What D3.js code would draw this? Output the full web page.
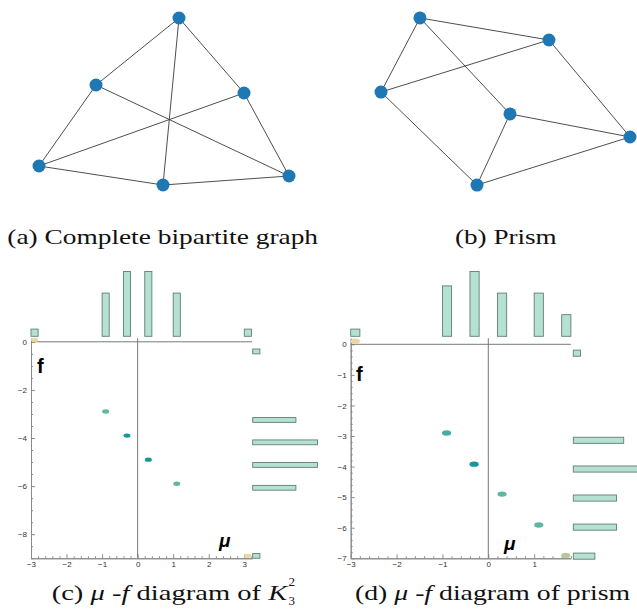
<!DOCTYPE html>
<html>
<head>
<meta charset="utf-8">
<script src="https://cdn.jsdelivr.net/npm/d3@7"></script>
<style>
  html, body { margin: 0; padding: 0; background: #fff; }
  svg { display: block; }
  .tick text { font-family: "Liberation Sans", Arial, sans-serif; font-size: 8px; fill: #333; }
</style>
</head>
<body>
<script>
// ---------- Graph layouts (unit coordinates, y up) ----------
const bipartiteNodes = [
  { x: 0.12,  y: 0.668 },
  { x: -0.544, y: 0.132 },
  { x: 0.64,  y: 0.068 },
  { x: -1.0,  y: -0.516 },
  { x: -0.008, y: -0.668 },
  { x: 1.0,   y: -0.596 }
];
const bipartiteEdges = [[0,1],[0,2],[0,4],[1,3],[1,5],[2,3],[2,5],[3,4],[4,5]];

const prismNodes = [
  { x: -0.687, y: 0.671 },
  { x: 0.349,  y: 0.494 },
  { x: -1.0,   y: 0.076 },
  { x: 0.036,  y: -0.1 },
  { x: 1.0,    y: -0.285 },
  { x: -0.229, y: -0.671 }
];
const prismEdges = [[0,1],[0,2],[0,3],[1,2],[1,4],[2,5],[3,4],[3,5],[4,5]];

// ---------- mu-f diagram of K3^2 ----------
const k3Points = [
  { mu: -0.9, f: -2.9, kind: "light" },
  { mu: -0.3, f: -3.9, kind: "dark" },
  { mu: 0.3,  f: -4.9, kind: "dark" },
  { mu: 1.1,  f: -5.9, kind: "light" },
  { mu: -2.9, f: 0.08, kind: "tan" },
  { mu: 3.1,  f: -8.9, kind: "tan" }
];
const k3MuBins = [-3, -1, -0.4, 0.2, 1.0, 3.0];
const k3MuCounts = [1, 6, 9, 9, 6, 1];
const k3FBins = [-0.3, -3.15, -4.08, -5.02, -5.97, -8.8];
const k3FCounts = [1, 6, 9, 9, 6, 1];
const k3MuTicks = [-3, -2, -1, 0, 1, 2, 3];
const k3FTicks = [0, -2, -4, -6, -8];

// ---------- mu-f diagram of prism ----------
const prismPoints = [
  { mu: -0.91, f: -2.9,  kind: "mid" },
  { mu: -0.31, f: -3.92, kind: "dark" },
  { mu: 0.3,   f: -4.9,  kind: "light" },
  { mu: 1.1,   f: -5.91, kind: "light" },
  { mu: 1.69,  f: -6.91, kind: "olive" },
  { mu: -2.9,  f: 0.1,   kind: "tan" }
];
const prismMuBins = [-3, -1, -0.4, 0.2, 1.0, 1.6];
const prismMuCounts = [1, 7, 9, 6, 6, 3];
const prismFBins = [-0.19, -3.04, -3.98, -4.93, -5.88, -6.83];
const prismFCounts = [1, 7, 9, 6, 6, 3];
const prismMuTicks = [-3, -2, -1, 0, 1];
const prismFTicks = [0, -1, -2, -3, -4, -5, -6, -7];

const pointColors = {
  light: "#5db8a3", dark: "#13999a", mid: "#4aab9f",
  olive: "#b9c89c", tan: "#ecd6a3"
};

const SERIF = "'Liberation Serif', 'Times New Roman', Times, 'Noto Serif', 'DejaVu Serif', serif";

const W = 637, H = 612;
const svg = d3.select("body").append("svg").attr("width", W).attr("height", H);
svg.append("rect").attr("width", W).attr("height", H).attr("fill", "#fff");

// ---------- network drawings ----------
function drawGraph(nodes, edges, xr, yr) {
  const x = d3.scaleLinear().domain([-1, 1]).range(xr);
  const y = d3.scaleLinear().domain([-1, 1]).range(yr);
  const g = svg.append("g");
  g.selectAll("line").data(edges).join("line")
    .attr("x1", d => x(nodes[d[0]].x)).attr("y1", d => y(nodes[d[0]].y))
    .attr("x2", d => x(nodes[d[1]].x)).attr("y2", d => y(nodes[d[1]].y))
    .attr("stroke", "#3a3a3a").attr("stroke-width", 0.9);
  g.selectAll("circle").data(nodes).join("circle")
    .attr("cx", d => x(d.x)).attr("cy", d => y(d.y))
    .attr("r", 6.5).attr("fill", "#1f77b4");
}
drawGraph(bipartiteNodes, bipartiteEdges, [39, 289], [226.5, -23.5]);
drawGraph(prismNodes, prismEdges, [381, 630], [226, -23]);

// ---------- mu-f diagrams ----------
function drawDiagram(cfg) {
  const x = d3.scaleLinear().domain([-3, cfg.muMax])
    .range([cfg.x0, cfg.x0 + (cfg.muMax + 3) * cfg.pxMu]);
  const y = d3.scaleLinear().domain([cfg.fTop, cfg.fMin])
    .range([cfg.y0 - cfg.fTop * cfg.pxF, cfg.y0 - cfg.fMin * cfg.pxF]);
  const g = svg.append("g");
  const barW = 0.2;
  const count = d3.scaleLinear().domain([0, 1]).range([0, 7.2]);

  // marginal histogram along mu (above the plot)
  g.selectAll("rect.mu").data(cfg.muBins).join("rect").attr("class", "mu")
    .attr("x", d => x(d)).attr("width", d => x(d + barW) - x(d))
    .attr("y", (d, i) => cfg.topBase - count(cfg.muCounts[i]))
    .attr("height", (d, i) => count(cfg.muCounts[i]))
    .attr("fill", "#b5e1d2").attr("stroke", "#5f7f74").attr("stroke-width", 0.9);

  // marginal histogram along f (to the right)
  g.selectAll("rect.f").data(cfg.fBins).join("rect").attr("class", "f")
    .attr("x", cfg.rightBase).attr("width", (d, i) => count(cfg.fCounts[i]))
    .attr("y", d => y(d)).attr("height", d => y(d - barW) - y(d))
    .attr("fill", "#b5e1d2").attr("stroke", "#5f7f74").attr("stroke-width", 0.9);

  const axisColor = "#8a8a8a";
  // bottom axis
  const bottomY = y(cfg.fMin);
  const minorMu = d3.range(-3, cfg.muMax + 1e-6, 0.2).filter(v => Math.abs(v - Math.round(v)) > 1e-6);
  const bx = g.append("g").attr("transform", `translate(0,${bottomY})`);
  bx.append("g").call(d3.axisBottom(x).tickValues(minorMu).tickSize(-2).tickSizeOuter(0).tickFormat(""));
  bx.append("g").call(d3.axisBottom(x).tickValues(cfg.muTicks).tickSize(-4).tickSizeOuter(0).tickPadding(3).tickFormat(d3.format("d")));
  // left axis
  const minorF = d3.range(0, cfg.fMin - 1e-6, -cfg.fMinorStep).filter(v => !cfg.fTicks.some(t => Math.abs(t - v) < 1e-6));
  const ly = g.append("g").attr("transform", `translate(${x(-3)},0)`);
  ly.append("g").call(d3.axisLeft(y).tickValues(minorF).tickSize(-2).tickSizeOuter(0).tickFormat(""));
  ly.append("g").call(d3.axisLeft(y).tickValues(cfg.fTicks).tickSize(-4).tickSizeOuter(0).tickPadding(4).tickFormat(d3.format("d")));
  g.selectAll(".domain, .tick line").attr("stroke", axisColor);

  // reference lines f = 0 and mu = 0
  g.append("line").attr("x1", x(-3)).attr("x2", x(cfg.muMax))
    .attr("y1", y(0)).attr("y2", y(0)).attr("stroke", "#7a7a7a").attr("stroke-width", 1);
  g.append("line").attr("x1", x(0)).attr("x2", x(0))
    .attr("y1", y(cfg.fTop)).attr("y2", y(cfg.fMin)).attr("stroke", "#7a7a7a").attr("stroke-width", 1);

  // points
  g.selectAll("ellipse").data(cfg.points).join("ellipse")
    .attr("cx", d => x(d.mu)).attr("cy", d => y(d.f))
    .attr("rx", cfg.rx).attr("ry", cfg.ry)
    .attr("fill", d => pointColors[d.kind]);

  // axis labels
  g.append("text").attr("x", cfg.fLabel[0]).attr("y", cfg.fLabel[1])
    .attr("font-family", "Liberation Sans, Arial, sans-serif").attr("font-weight", "bold")
    .attr("font-size", 20).attr("fill", "#000").text("f");
  g.append("text").attr("x", cfg.muLabel[0]).attr("y", cfg.muLabel[1])
    .attr("font-family", "Liberation Sans, Arial, sans-serif").attr("font-weight", "bold")
    .attr("font-style", "italic").attr("font-size", 19).attr("fill", "#000").text("μ");
}

drawDiagram({
  x0: 31, pxMu: 35.55, muMax: 3.22, y0: 341.8, pxF: 24.05, fTop: 0.15, fMin: -9,
  fMinorStep: 0.5, muTicks: k3MuTicks, fTicks: k3FTicks,
  muBins: k3MuBins, muCounts: k3MuCounts, fBins: k3FBins, fCounts: k3FCounts,
  topBase: 336.3, rightBase: 252.7, points: k3Points, rx: 3.5, ry: 2.2,
  fLabel: [37, 373], muLabel: [219, 547]
});
drawDiagram({
  x0: 350.7, pxMu: 45.87, muMax: 1.8, y0: 344.3, pxF: 30.57, fTop: 0.2, fMin: -7,
  fMinorStep: 0.2, muTicks: prismMuTicks, fTicks: prismFTicks,
  muBins: prismMuBins, muCounts: prismMuCounts, fBins: prismFBins, fCounts: prismFCounts,
  topBase: 336.3, rightBase: 573.3, points: prismPoints, rx: 4.6, ry: 2.7,
  fLabel: [356, 381], muLabel: [504, 550]
});

// ---------- captions ----------
function caption(xPos, yPos, len, size) {
  const t = svg.append("text").attr("x", xPos).attr("y", yPos)
    .attr("font-family", SERIF).attr("font-size", size || 21).attr("fill", "#111");
  if (len) t.attr("textLength", len).attr("lengthAdjust", "spacingAndGlyphs");
  return t;
}
caption(7.3, 244, 310.7).text("(a) Complete bipartite graph");
caption(455, 244, 101.7).text("(b) Prism");

const capC = caption(51.7, 600, 235.5);
capC.append("tspan").text("(c) ");
capC.append("tspan").attr("font-style", "italic").text("μ");
capC.append("tspan").text(" -");
capC.append("tspan").attr("font-style", "italic").text("f");
capC.append("tspan").text(" diagram of ");
capC.append("tspan").attr("font-style", "italic").text("K");
// index and exponent of K, stacked after the letter
caption(288.5, 605, null, 13).text("3");
caption(288.5, 586, null, 13).text("2");

const capD = caption(355, 600, 275);
capD.append("tspan").text("(d) ");
capD.append("tspan").attr("font-style", "italic").text("μ");
capD.append("tspan").text(" -");
capD.append("tspan").attr("font-style", "italic").text("f");
capD.append("tspan").text(" diagram of prism");
</script>
</body>
</html>
